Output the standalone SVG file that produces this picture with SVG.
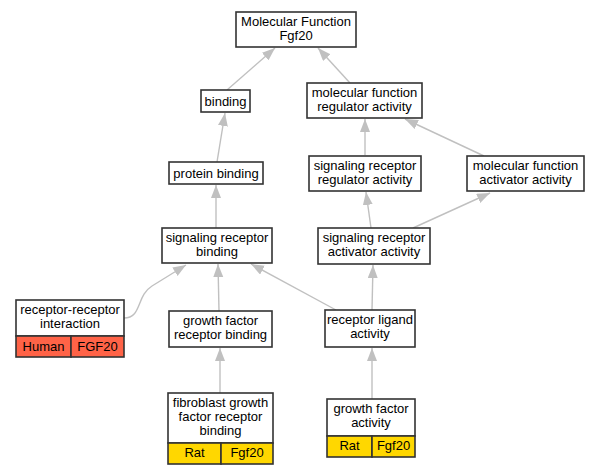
<svg xmlns="http://www.w3.org/2000/svg" width="599" height="475" viewBox="0 0 599 475">
<style>
.n{fill:#fff;stroke:#333;stroke-width:1.6}
.r{fill:#ff6347;stroke:#333;stroke-width:1.6}
.y{fill:#ffd700;stroke:#333;stroke-width:1.6}
text{font-family:"Liberation Sans",Arial,sans-serif;font-size:13px;fill:#000;text-anchor:middle}
.e path{fill:none;stroke:#c0c0c0;stroke-width:1.4;marker-end:url(#a)}
</style>
<defs>
<marker id="a" markerUnits="userSpaceOnUse" markerWidth="14" markerHeight="12" refX="13" refY="5" orient="auto">
<path d="M0,0 L13,5 L0,10 z" fill="#c0c0c0" stroke="none"/>
</marker>
</defs>
<rect width="599" height="475" fill="#fff"/>
<g class="e" id="edges">
<path d="M227,90 L275,48"/>
<path d="M350,83 L318,48"/>
<path d="M217,162 L225,113"/>
<path d="M365,155 L365,119"/>
<path d="M484,156 L405,119"/>
<path d="M216,228 L216,185"/>
<path d="M371,228 L366,192"/>
<path d="M413,228 L490,193"/>
<path d="M124,318 C142,318 136,296 152,286 L186,265"/>
<path d="M219,311 L218,264"/>
<path d="M336,310 L251,264"/>
<path d="M372,310 L373,265"/>
<path d="M220,393 L220,348"/>
<path d="M372,399 L372,348"/>
</g>
<g id="mf"><rect class="n" x="236" y="12" width="120" height="35"/><text x="296" y="26">Molecular Function</text><text x="296" y="40">Fgf20</text></g>
<g id="binding"><rect class="n" x="201" y="90" width="49" height="22"/><text x="225.5" y="105.5">binding</text></g>
<g id="mfra"><rect class="n" x="307" y="83" width="115" height="35"/><text x="364.5" y="97">molecular function</text><text x="364.5" y="111">regulator activity</text></g>
<g id="pb"><rect class="n" x="169" y="162" width="94" height="22"/><text x="216" y="177.5">protein binding</text></g>
<g id="srra"><rect class="n" x="309" y="156" width="112" height="35"/><text x="365" y="170">signaling receptor</text><text x="365" y="184">regulator activity</text></g>
<g id="mfaa"><rect class="n" x="467" y="156" width="117" height="35"/><text x="525.5" y="170">molecular function</text><text x="525.5" y="184">activator activity</text></g>
<g id="srb"><rect class="n" x="162" y="228" width="110" height="35"/><text x="217" y="242">signaling receptor</text><text x="217" y="256">binding</text></g>
<g id="sraa"><rect class="n" x="318" y="228" width="112" height="36"/><text x="374" y="242">signaling receptor</text><text x="374" y="256">activator activity</text></g>
<g id="rri"><rect class="n" x="16" y="300" width="108" height="36"/><text x="70" y="314">receptor-receptor</text><text x="70" y="328">interaction</text>
<rect class="r" x="16" y="336" width="55" height="21"/><rect class="r" x="71" y="336" width="53" height="21"/><text x="43.5" y="351">Human</text><text x="97.5" y="351">FGF20</text></g>
<g id="gfrb"><rect class="n" x="169" y="311" width="103" height="36"/><text x="220.5" y="325">growth factor</text><text x="220.5" y="339">receptor binding</text></g>
<g id="rla"><rect class="n" x="325" y="310" width="90" height="37"/><text x="370" y="324">receptor ligand</text><text x="370" y="338">activity</text></g>
<g id="fgfrb"><rect class="n" x="168" y="393" width="105" height="50"/><text x="220.5" y="407">fibroblast growth</text><text x="220.5" y="421">factor receptor</text><text x="220.5" y="435">binding</text>
<rect class="y" x="168" y="443" width="53" height="21"/><rect class="y" x="221" y="443" width="52" height="21"/><text x="194.5" y="457">Rat</text><text x="247" y="457">Fgf20</text></g>
<g id="gfa"><rect class="n" x="327" y="399" width="88" height="37"/><text x="371" y="413">growth factor</text><text x="371" y="427">activity</text>
<rect class="y" x="327" y="436" width="45" height="21"/><rect class="y" x="372" y="436" width="43" height="21"/><text x="349.5" y="450">Rat</text><text x="393.5" y="450">Fgf20</text></g>
</svg>
